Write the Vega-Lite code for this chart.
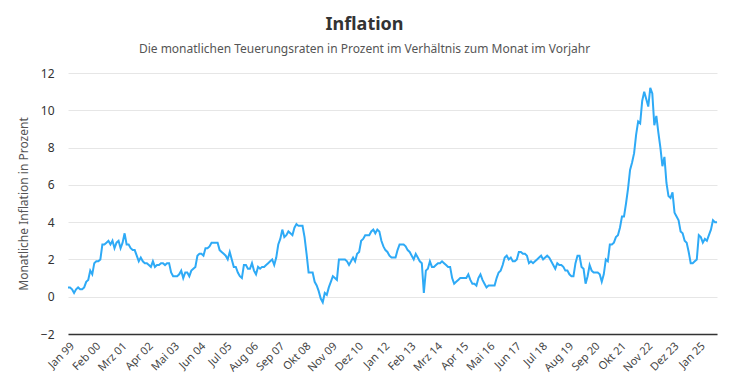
{
  "$schema": "https://vega.github.io/schema/vega-lite/v6.json",
  "width": 649,
  "height": 261,
  "autosize": "none",
  "padding": {"left": 68, "top": 73, "right": 12, "bottom": 56},
  "background": "white",
  "title": {
    "text": "Inflation",
    "subtitle": "Die monatlichen Teuerungsraten in Prozent im Verhältnis zum Monat im Vorjahr",
    "anchor": "middle",
    "frame": "group",
    "dx": -28,
    "offset": 12,
    "font": "Noto Sans",
    "fontSize": 18,
    "fontWeight": "bold",
    "color": "#333333",
    "subtitleFont": "Noto Sans",
    "subtitleFontSize": 12,
    "subtitleColor": "#555555",
    "subtitlePadding": 10
  },
  "config": {"view": {"stroke": null}},
  "data": {"values": [
    {"m":"Jan 99","v":0.5},{"m":"Feb 99","v":0.5},{"m":"Mrz 99","v":0.4},{"m":"Apr 99","v":0.2},{"m":"Mai 99","v":0.4},{"m":"Jun 99","v":0.5},{"m":"Jul 99","v":0.4},{"m":"Aug 99","v":0.4},{"m":"Sep 99","v":0.5},{"m":"Okt 99","v":0.8},{"m":"Nov 99","v":0.9},{"m":"Dez 99","v":1.4},
    {"m":"Jan 00","v":1.2},{"m":"Feb 00","v":1.8},{"m":"Mrz 00","v":1.9},{"m":"Apr 00","v":1.9},{"m":"Mai 00","v":2.0},{"m":"Jun 00","v":2.8},{"m":"Jul 00","v":2.8},{"m":"Aug 00","v":2.9},{"m":"Sep 00","v":3.0},{"m":"Okt 00","v":2.8},{"m":"Nov 00","v":3.0},{"m":"Dez 00","v":2.6},
    {"m":"Jan 01","v":2.9},{"m":"Feb 01","v":3.0},{"m":"Mrz 01","v":2.6},{"m":"Apr 01","v":2.9},{"m":"Mai 01","v":3.4},{"m":"Jun 01","v":2.8},{"m":"Jul 01","v":2.8},{"m":"Aug 01","v":2.6},{"m":"Sep 01","v":2.5},{"m":"Okt 01","v":2.5},{"m":"Nov 01","v":2.2},{"m":"Dez 01","v":1.9},
    {"m":"Jan 02","v":2.1},{"m":"Feb 02","v":1.9},{"m":"Mrz 02","v":1.8},{"m":"Apr 02","v":1.8},{"m":"Mai 02","v":1.7},{"m":"Jun 02","v":1.6},{"m":"Jul 02","v":1.9},{"m":"Aug 02","v":1.6},{"m":"Sep 02","v":1.7},{"m":"Okt 02","v":1.7},{"m":"Nov 02","v":1.8},{"m":"Dez 02","v":1.8},
    {"m":"Jan 03","v":1.7},{"m":"Feb 03","v":1.8},{"m":"Mrz 03","v":1.8},{"m":"Apr 03","v":1.3},{"m":"Mai 03","v":1.1},{"m":"Jun 03","v":1.1},{"m":"Jul 03","v":1.1},{"m":"Aug 03","v":1.2},{"m":"Sep 03","v":1.4},{"m":"Okt 03","v":1.0},{"m":"Nov 03","v":1.3},{"m":"Dez 03","v":1.3},
    {"m":"Jan 04","v":1.1},{"m":"Feb 04","v":1.4},{"m":"Mrz 04","v":1.5},{"m":"Apr 04","v":1.6},{"m":"Mai 04","v":2.2},{"m":"Jun 04","v":2.3},{"m":"Jul 04","v":2.3},{"m":"Aug 04","v":2.2},{"m":"Sep 04","v":2.6},{"m":"Okt 04","v":2.6},{"m":"Nov 04","v":2.7},{"m":"Dez 04","v":2.9},
    {"m":"Jan 05","v":2.9},{"m":"Feb 05","v":2.9},{"m":"Mrz 05","v":2.9},{"m":"Apr 05","v":2.5},{"m":"Mai 05","v":2.4},{"m":"Jun 05","v":2.3},{"m":"Jul 05","v":2.2},{"m":"Aug 05","v":2.0},{"m":"Sep 05","v":2.4},{"m":"Okt 05","v":2.0},{"m":"Nov 05","v":1.6},{"m":"Dez 05","v":1.6},
    {"m":"Jan 06","v":1.3},{"m":"Feb 06","v":1.1},{"m":"Mrz 06","v":1.0},{"m":"Apr 06","v":1.7},{"m":"Mai 06","v":1.7},{"m":"Jun 06","v":1.5},{"m":"Jul 06","v":1.5},{"m":"Aug 06","v":1.8},{"m":"Sep 06","v":1.4},{"m":"Okt 06","v":1.2},{"m":"Nov 06","v":1.6},{"m":"Dez 06","v":1.5},
    {"m":"Jan 07","v":1.6},{"m":"Feb 07","v":1.6},{"m":"Mrz 07","v":1.7},{"m":"Apr 07","v":1.8},{"m":"Mai 07","v":1.9},{"m":"Jun 07","v":2.0},{"m":"Jul 07","v":1.7},{"m":"Aug 07","v":2.1},{"m":"Sep 07","v":2.8},{"m":"Okt 07","v":3.1},{"m":"Nov 07","v":3.6},{"m":"Dez 07","v":3.2},
    {"m":"Jan 08","v":3.3},{"m":"Feb 08","v":3.5},{"m":"Mrz 08","v":3.4},{"m":"Apr 08","v":3.3},{"m":"Mai 08","v":3.7},{"m":"Jun 08","v":3.9},{"m":"Jul 08","v":3.8},{"m":"Aug 08","v":3.8},{"m":"Sep 08","v":3.8},{"m":"Okt 08","v":3.2},{"m":"Nov 08","v":2.3},{"m":"Dez 08","v":1.3},
    {"m":"Jan 09","v":1.3},{"m":"Feb 09","v":1.3},{"m":"Mrz 09","v":0.8},{"m":"Apr 09","v":0.6},{"m":"Mai 09","v":0.3},{"m":"Jun 09","v":-0.1},{"m":"Jul 09","v":-0.3},{"m":"Aug 09","v":0.2},{"m":"Sep 09","v":0.1},{"m":"Okt 09","v":0.5},{"m":"Nov 09","v":0.8},{"m":"Dez 09","v":1.1},
    {"m":"Jan 10","v":1.0},{"m":"Feb 10","v":0.9},{"m":"Mrz 10","v":2.0},{"m":"Apr 10","v":2.0},{"m":"Mai 10","v":2.0},{"m":"Jun 10","v":2.0},{"m":"Jul 10","v":1.9},{"m":"Aug 10","v":1.7},{"m":"Sep 10","v":1.9},{"m":"Okt 10","v":2.1},{"m":"Nov 10","v":1.9},{"m":"Dez 10","v":2.3},
    {"m":"Jan 11","v":2.4},{"m":"Feb 11","v":3.0},{"m":"Mrz 11","v":3.1},{"m":"Apr 11","v":3.3},{"m":"Mai 11","v":3.3},{"m":"Jun 11","v":3.3},{"m":"Jul 11","v":3.5},{"m":"Aug 11","v":3.6},{"m":"Sep 11","v":3.4},{"m":"Okt 11","v":3.6},{"m":"Nov 11","v":3.5},{"m":"Dez 11","v":3.0},
    {"m":"Jan 12","v":2.7},{"m":"Feb 12","v":2.5},{"m":"Mrz 12","v":2.4},{"m":"Apr 12","v":2.2},{"m":"Mai 12","v":2.1},{"m":"Jun 12","v":2.1},{"m":"Jul 12","v":2.1},{"m":"Aug 12","v":2.5},{"m":"Sep 12","v":2.8},{"m":"Okt 12","v":2.8},{"m":"Nov 12","v":2.8},{"m":"Dez 12","v":2.7},
    {"m":"Jan 13","v":2.5},{"m":"Feb 13","v":2.4},{"m":"Mrz 13","v":2.2},{"m":"Apr 13","v":2.0},{"m":"Mai 13","v":2.3},{"m":"Jun 13","v":2.1},{"m":"Jul 13","v":1.9},{"m":"Aug 13","v":1.8},{"m":"Sep 13","v":0.2},{"m":"Okt 13","v":1.4},{"m":"Nov 13","v":1.5},{"m":"Dez 13","v":1.9},
    {"m":"Jan 14","v":1.6},{"m":"Feb 14","v":1.6},{"m":"Mrz 14","v":1.7},{"m":"Apr 14","v":1.8},{"m":"Mai 14","v":1.8},{"m":"Jun 14","v":1.9},{"m":"Jul 14","v":1.8},{"m":"Aug 14","v":1.7},{"m":"Sep 14","v":1.6},{"m":"Okt 14","v":1.6},{"m":"Nov 14","v":1.0},{"m":"Dez 14","v":0.7},
    {"m":"Jan 15","v":0.8},{"m":"Feb 15","v":0.9},{"m":"Mrz 15","v":1.0},{"m":"Apr 15","v":1.0},{"m":"Mai 15","v":1.0},{"m":"Jun 15","v":1.0},{"m":"Jul 15","v":1.2},{"m":"Aug 15","v":0.9},{"m":"Sep 15","v":0.7},{"m":"Okt 15","v":0.7},{"m":"Nov 15","v":0.6},{"m":"Dez 15","v":1.0},
    {"m":"Jan 16","v":1.2},{"m":"Feb 16","v":0.9},{"m":"Mrz 16","v":0.7},{"m":"Apr 16","v":0.5},{"m":"Mai 16","v":0.6},{"m":"Jun 16","v":0.6},{"m":"Jul 16","v":0.6},{"m":"Aug 16","v":0.6},{"m":"Sep 16","v":1.0},{"m":"Okt 16","v":1.3},{"m":"Nov 16","v":1.4},{"m":"Dez 16","v":1.7},
    {"m":"Jan 17","v":2.1},{"m":"Feb 17","v":2.2},{"m":"Mrz 17","v":2.0},{"m":"Apr 17","v":2.1},{"m":"Mai 17","v":1.9},{"m":"Jun 17","v":1.9},{"m":"Jul 17","v":2.0},{"m":"Aug 17","v":2.4},{"m":"Sep 17","v":2.4},{"m":"Okt 17","v":2.3},{"m":"Nov 17","v":2.3},{"m":"Dez 17","v":2.2},
    {"m":"Jan 18","v":1.8},{"m":"Feb 18","v":1.9},{"m":"Mrz 18","v":1.8},{"m":"Apr 18","v":1.9},{"m":"Mai 18","v":2.0},{"m":"Jun 18","v":2.1},{"m":"Jul 18","v":2.2},{"m":"Aug 18","v":2.0},{"m":"Sep 18","v":2.1},{"m":"Okt 18","v":2.2},{"m":"Nov 18","v":2.1},{"m":"Dez 18","v":1.9},
    {"m":"Jan 19","v":1.7},{"m":"Feb 19","v":1.5},{"m":"Mrz 19","v":1.8},{"m":"Apr 19","v":1.7},{"m":"Mai 19","v":1.7},{"m":"Jun 19","v":1.6},{"m":"Jul 19","v":1.4},{"m":"Aug 19","v":1.4},{"m":"Sep 19","v":1.2},{"m":"Okt 19","v":1.1},{"m":"Nov 19","v":1.1},{"m":"Dez 19","v":1.8},
    {"m":"Jan 20","v":2.2},{"m":"Feb 20","v":2.2},{"m":"Mrz 20","v":1.6},{"m":"Apr 20","v":1.5},{"m":"Mai 20","v":0.7},{"m":"Jun 20","v":1.1},{"m":"Jul 20","v":1.7},{"m":"Aug 20","v":1.4},{"m":"Sep 20","v":1.3},{"m":"Okt 20","v":1.3},{"m":"Nov 20","v":1.3},{"m":"Dez 20","v":1.2},
    {"m":"Jan 21","v":0.8},{"m":"Feb 21","v":1.2},{"m":"Mrz 21","v":2.0},{"m":"Apr 21","v":1.9},{"m":"Mai 21","v":2.8},{"m":"Jun 21","v":2.8},{"m":"Jul 21","v":2.9},{"m":"Aug 21","v":3.2},{"m":"Sep 21","v":3.3},{"m":"Okt 21","v":3.7},{"m":"Nov 21","v":4.3},{"m":"Dez 21","v":4.3},
    {"m":"Jan 22","v":5.0},{"m":"Feb 22","v":5.8},{"m":"Mrz 22","v":6.8},{"m":"Apr 22","v":7.2},{"m":"Mai 22","v":7.7},{"m":"Jun 22","v":8.7},{"m":"Jul 22","v":9.4},{"m":"Aug 22","v":9.3},{"m":"Sep 22","v":10.5},{"m":"Okt 22","v":11.0},{"m":"Nov 22","v":10.6},{"m":"Dez 22","v":10.2},
    {"m":"Jan 23","v":11.2},{"m":"Feb 23","v":10.9},{"m":"Mrz 23","v":9.2},{"m":"Apr 23","v":9.7},{"m":"Mai 23","v":8.8},{"m":"Jun 23","v":8.0},{"m":"Jul 23","v":7.0},{"m":"Aug 23","v":7.5},{"m":"Sep 23","v":6.1},{"m":"Okt 23","v":5.4},{"m":"Nov 23","v":5.3},{"m":"Dez 23","v":5.6},
    {"m":"Jan 24","v":4.5},{"m":"Feb 24","v":4.3},{"m":"Mrz 24","v":4.1},{"m":"Apr 24","v":3.5},{"m":"Mai 24","v":3.4},{"m":"Jun 24","v":3.0},{"m":"Jul 24","v":2.9},{"m":"Aug 24","v":2.4},{"m":"Sep 24","v":1.8},{"m":"Okt 24","v":1.8},{"m":"Nov 24","v":1.9},{"m":"Dez 24","v":2.0},
    {"m":"Jan 25","v":3.3},{"m":"Feb 25","v":3.2},{"m":"Mrz 25","v":2.9},{"m":"Apr 25","v":3.1},{"m":"Mai 25","v":3.0},{"m":"Jun 25","v":3.3},{"m":"Jul 25","v":3.6},{"m":"Aug 25","v":4.1},{"m":"Sep 25","v":4.0},{"m":"Okt 25","v":4.0}
  ]},
  "mark": {"type": "line", "color": "#2eaaf6", "strokeWidth": 2, "interpolate": "linear"},
  "encoding": {
    "x": {
      "field": "m",
      "type": "ordinal",
      "sort": null,
      "scale": {"type": "point", "padding": 0},
      "axis": {
        "title": null,
        "values": ["Jan 99","Feb 00","Mrz 01","Apr 02","Mai 03","Jun 04","Jul 05","Aug 06","Sep 07","Okt 08","Nov 09","Dez 10","Jan 12","Feb 13","Mrz 14","Apr 15","Mai 16","Jun 17","Jul 18","Aug 19","Sep 20","Okt 21","Nov 22","Dez 23","Jan 25"],
        "labelAngle": -45,
        "labelFont": "Noto Sans",
        "labelFontSize": 11,
        "labelColor": "#444444",
        "labelPadding": 6,
        "ticks": false,
        "grid": false,
        "domainColor": "#333333",
        "domainWidth": 1.5,
        "labelOverlap": false
      }
    },
    "y": {
      "field": "v",
      "type": "quantitative",
      "scale": {"domain": [-2, 12], "nice": false, "zero": false},
      "axis": {
        "title": "Monatliche Inflation in Prozent",
        "titleFont": "Noto Sans",
        "titleFontSize": 12,
        "titleFontWeight": "normal",
        "titleColor": "#555555",
        "titlePadding": 10,
        "values": [-2, 0, 2, 4, 6, 8, 10, 12],
        "labelFont": "Noto Sans",
        "labelFontSize": 12,
        "labelColor": "#333333",
        "labelPadding": 14,
        "ticks": false,
        "domain": false,
        "gridColor": "#e6e6e6",
        "gridWidth": 1
      }
    }
  }
}
